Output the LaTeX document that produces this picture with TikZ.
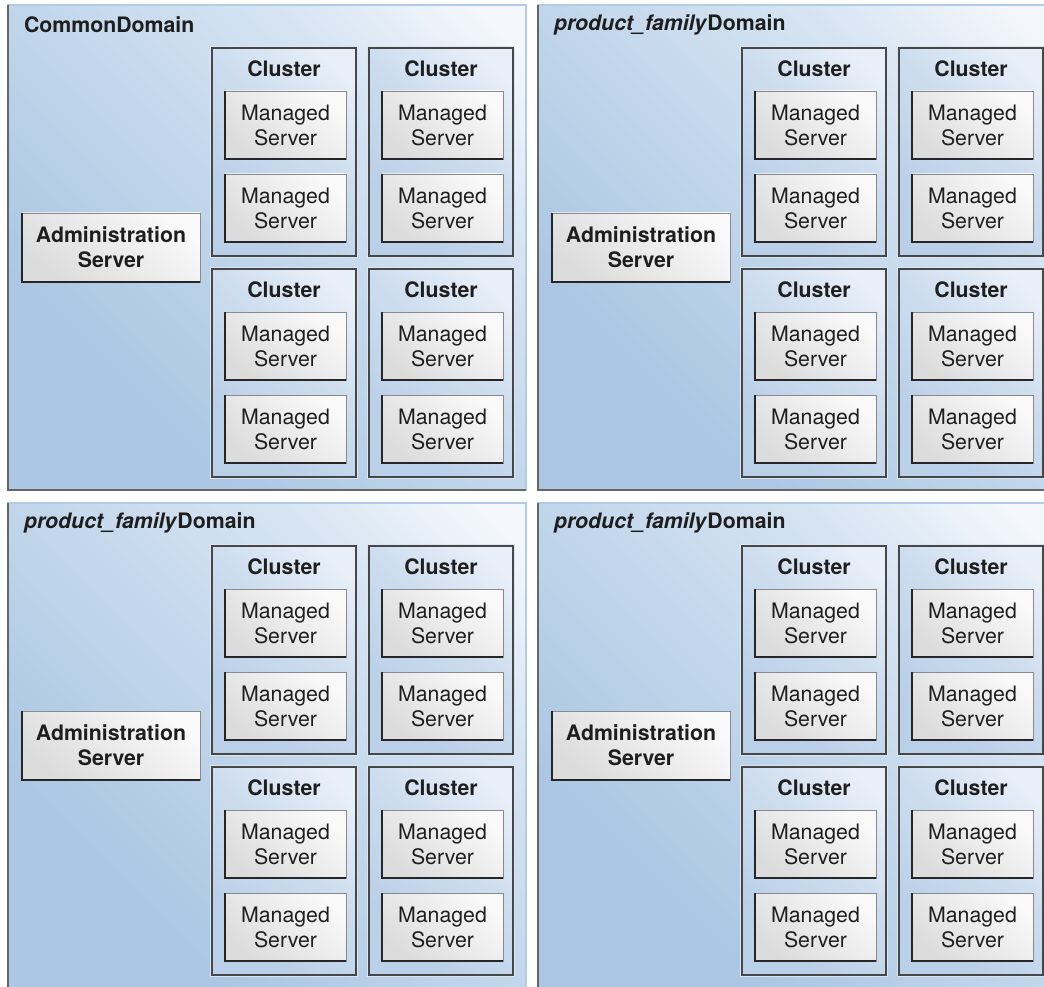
\documentclass[tikz,border=0pt]{standalone}
\usepackage{fontspec}
\setmainfont{TeX Gyre Heros}
\usetikzlibrary{calc}
\definecolor{domlight}{HTML}{F3F7FC}
\definecolor{dommid}{HTML}{C4D8EC}
\definecolor{domdark}{HTML}{ABC7E3}
\definecolor{domedge}{HTML}{B3CCE5}
\definecolor{darkedge}{HTML}{666666}
\definecolor{clulight}{HTML}{E8EFF8}
\definecolor{cludark}{HTML}{BAD0E8}
\definecolor{srvlight}{HTML}{F9F9F9}
\definecolor{srvdark}{HTML}{DCDCDC}
\definecolor{srvedge}{HTML}{8A8A8A}
\definecolor{txt}{HTML}{1E1E1E}
\pgfdeclareverticalshading{domshade}{100bp}{color(0bp)=(domdark); color(30bp)=(domdark); color(52bp)=(dommid); color(68bp)=(domlight!40!dommid); color(82bp)=(domlight); color(100bp)=(domlight)}
\pgfdeclareverticalshading{clushade}{100bp}{color(0bp)=(cludark); color(30bp)=(cludark); color(55bp)=(cludark!60!clulight); color(78bp)=(clulight); color(100bp)=(clulight)}
\begin{document}
\begin{tikzpicture}[x=1pt,y=-1pt,
  every node/.style={inner sep=0pt, outer sep=0pt, text=txt},
  big/.style={font=\fontsize{21.3}{25}\selectfont},
  domainbox/.style={shading=domshade, shading angle=-45, draw=domedge, line width=1.2pt},
  domshadow/.style={draw=darkedge, line width=2pt},
  clusterbox/.style={shading=clushade, shading angle=-45, draw=white!55!domdark, line width=2.4pt},
  clusterline/.style={draw=black!72, line width=1.3pt},
  serverbox/.style={top color=srvlight, bottom color=srvdark, shading angle=-40, draw=srvedge, line width=0.8pt, big, align=center, minimum width=121, minimum height=68},
  adminbox/.style={serverbox, font=\fontsize{21.3}{25}\selectfont\bfseries, minimum width=178, minimum height=69},
  srvshadow/.style={draw=black!85, line width=1.3pt},
  titletext/.style={big, font=\fontsize{21.3}{25}\selectfont\bfseries},
  clusterlabel/.style={font=\fontsize{21.3}{25}\selectfont\bfseries}
]
\useasboundingbox (0,0) rectangle (1044,987);
\fill[white] (0,0) rectangle (1044,987);
\clip (0,0) rectangle (1044,987);
\foreach \dx/\dy/\i/\ttl in {0/0/1/{CommonDomain}, 530/0/2/{\textit{product\_family}Domain}, 0/498/3/{\textit{product\_family}Domain}, 530/498/4/{\textit{product\_family}Domain}}{
  \node[domainbox, anchor=north west, minimum width=518, minimum height=485] (d\i) at (8+\dx,5+\dy) {};
  \draw[domshadow] (d\i.north west) -- (d\i.south west) -- (d\i.south east);
  \node[titletext, anchor=west] (d\i-t) at (24+\dx,25+\dy) {\ttl};
  \node[adminbox, anchor=north west] (d\i-a) at (22+\dx,213+\dy) {Administration\\Server};
  \draw[srvshadow] (d\i-a.north west) -- (d\i-a.south west) -- (d\i-a.south east);
  \foreach \cx/\cy/\j in {212/48/1, 369/48/2, 212/269/3, 369/269/4}{
    \node[clusterbox, anchor=north west, minimum width=146, minimum height=210] (d\i-c\j) at (\cx+\dx-1,\cy+\dy-1) {};
    \draw[clusterline] ($(d\i-c\j.north west)+(1,1)$) rectangle ($(d\i-c\j.south east)+(-1,-1)$);
    \node[clusterlabel] (d\i-c\j-l) at (\cx+\dx+72,\cy+\dy+21) {Cluster};
    \node[serverbox, anchor=north west] (d\i-c\j-m1) at (\cx+\dx+13,\cy+\dy+43) {Managed\\Server};
    \draw[srvshadow] (d\i-c\j-m1.north west) -- (d\i-c\j-m1.south west) -- (d\i-c\j-m1.south east);
    \node[serverbox, anchor=north west] (d\i-c\j-m2) at (\cx+\dx+13,\cy+\dy+126) {Managed\\Server};
    \draw[srvshadow] (d\i-c\j-m2.north west) -- (d\i-c\j-m2.south west) -- (d\i-c\j-m2.south east);
  }
}
\end{tikzpicture}
\end{document}
